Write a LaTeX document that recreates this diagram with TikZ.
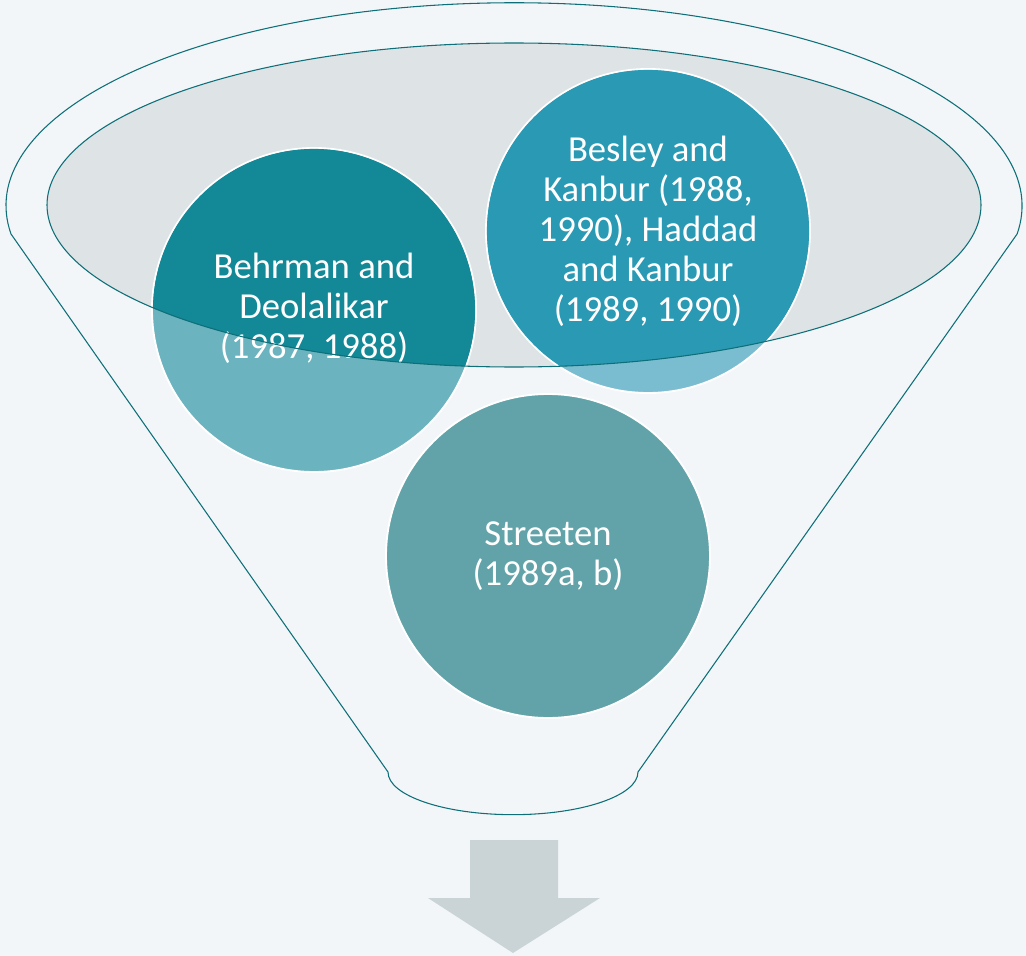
\documentclass[tikz,border=0pt]{standalone}
\usepackage{fontspec}
\setmainfont{Carlito}
\usepackage{xcolor}
\usepackage{tikz}

\definecolor{bgpaper}{HTML}{F2F6F9}
\definecolor{funnelline}{HTML}{0E6F78}
\definecolor{rimgrey}{HTML}{DEE3E6}
\definecolor{behrdark}{HTML}{138896}
\definecolor{behrlight}{HTML}{6BB3BE}
\definecolor{besldark}{HTML}{2A9AB4}
\definecolor{besllight}{HTML}{7BBDD0}
\definecolor{streetfill}{HTML}{61A3A8}
\definecolor{arrowgrey}{HTML}{CAD4D6}

\tikzset{
  funnel/.style={draw=funnelline, line width=0.8pt},
  ring/.style={draw=white, line width=1.4pt},
  label/.style={text=white, align=center, font=\fontsize{27.5}{30}\selectfont},
}

\begin{document}
\begin{tikzpicture}[x=0.75pt, y=-0.75pt]
\fill[bgpaper] (0,0) rectangle (1026,956);
\useasboundingbox (0,0) rectangle (1026,956);

% funnel body
\draw[funnel] (11,234) arc[start angle=188, end angle=-8, x radius=381pt, y radius=152.25pt]
  -- (638,772) arc[start angle=0, end angle=-180, x radius=93.75pt, y radius=32pt] -- cycle;
\fill[rimgrey] (514,205) ellipse [x radius=350.25pt, y radius=121.5pt];

% bubbles
\draw[ring, fill=behrlight] (314,310) circle (121.5pt);
\draw[ring, fill=besllight] (648,231) circle (121.5pt);
\draw[ring, fill=streetfill] (548,556) circle (121.5pt);
\begin{scope}
  \clip (514,205) ellipse [x radius=350.25pt, y radius=121.5pt];
  \fill[behrdark] (314,310) circle (120.8pt);
  \fill[besldark] (648,231) circle (120.8pt);
\end{scope}

\node[label] (behrman) at (314,308) {Behrman and\\Deolalikar\\(1987, 1988)};
\node[label] (besley) at (648,231) {Besley and\\Kanbur (1988,\\1990), Haddad\\and Kanbur\\(1989, 1990)};
\node[label] (streeten) at (548,556) {Streeten\\(1989a, b)};

\draw[funnel] (514,205) ellipse [x radius=350.25pt, y radius=121.5pt];

% arrow out
\fill[arrowgrey] (470,840) -- (558,840) -- (558,898) -- (600,898) -- (513,953)
  -- (428,898) -- (470,898) -- cycle;
\end{tikzpicture}
\end{document}
